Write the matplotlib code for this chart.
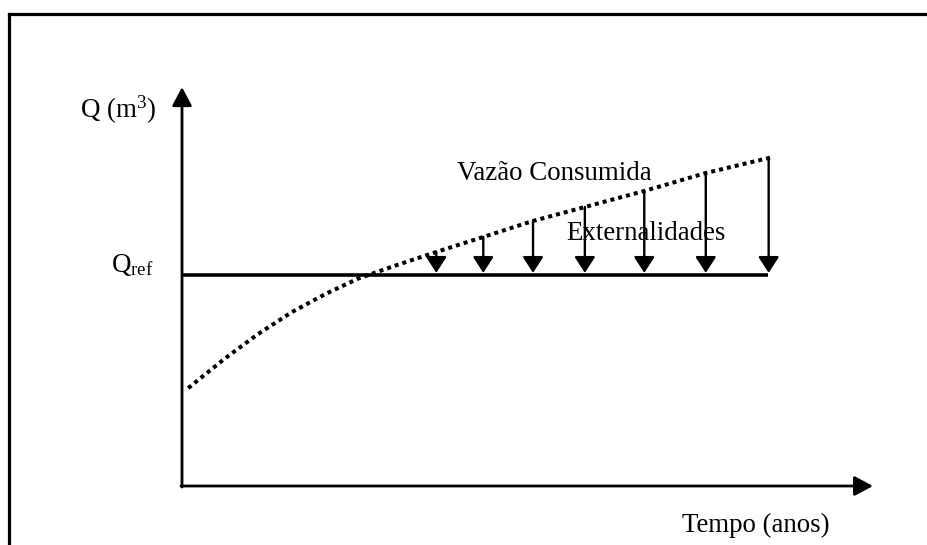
import numpy as np
import matplotlib.pyplot as plt
from matplotlib.lines import Line2D

plt.rcParams['font.family'] = ['Liberation Serif', 'DejaVu Serif']
plt.rcParams['mathtext.fontset'] = 'custom'
plt.rcParams['mathtext.rm'] = 'Liberation Serif'
plt.rcParams['mathtext.it'] = 'Liberation Serif:italic'

# vazao consumida (dotted curve), tempo vs Q
tempo = [0.09, 0.62, 1.10, 1.59, 2.07, 2.55, 3.11, 3.68, 4.36, 5.08, 5.83, 6.69, 7.58, 8.55]
vazao = [4.64, 6.04, 7.20, 8.24, 9.09, 9.83, 10.47, 11.09, 11.80, 12.56, 13.22, 13.98, 14.83, 15.59]

q_ref = 10.0
t_ref_end = 8.48

# externalidades arrows
t_ext = [3.68, 4.36, 5.08, 5.83, 6.69, 7.58, 8.49]
q_ext = [11.09, 11.80, 12.56, 13.22, 13.98, 14.83, 15.55]

x_tip = 10.0
y_tip = 18.9

fig = plt.figure(figsize=(9.28, 5.45), dpi=100)
ax = fig.add_axes([0, 0, 1, 1])
ax.set_xlim(-2.634, 10.796)
ax.set_ylim(-2.796, 23.03)
ax.axis('off')

# page border (left and top only)
fig.add_artist(Line2D([9 / 928, 9 / 928], [0, 1 - 14 / 545], color='black', lw=2.3,
                      transform=fig.transFigure, solid_capstyle='projecting'))
fig.add_artist(Line2D([9 / 928, 1], [1 - 14 / 545, 1 - 14 / 545], color='black', lw=2.3,
                      transform=fig.transFigure, solid_capstyle='projecting'))

# axes with arrows
axis_arrow = dict(arrowstyle='-|>,head_length=0.75,head_width=0.4', color='black',
                  lw=2.0, shrinkA=0, shrinkB=0, mutation_scale=15)
ax.annotate('', xy=(0, y_tip), xytext=(0, -0.05), arrowprops=axis_arrow)
ax.annotate('', xy=(x_tip, 0), xytext=(-0.015, 0), arrowprops=axis_arrow)

# Q ref line
ax.plot([0, t_ref_end], [q_ref, q_ref], color='black', lw=2.6, solid_capstyle='butt')

# consumed flow curve
ax.plot(tempo, vazao, color='black', lw=2.9, linestyle=(0, (1, 1.0)), dash_capstyle='butt',
        solid_joinstyle='round')

# externality arrows
ext_arrow = dict(arrowstyle='-|>,head_length=0.65,head_width=0.42', color='black',
                 lw=1.7, shrinkA=0, shrinkB=0, mutation_scale=15)
for t, q in zip(t_ext, q_ext):
    ax.annotate('', xy=(t, q_ref + 0.1), xytext=(t, q), arrowprops=ext_arrow)

fs = 19.4
ax.text(-0.93, 17.44, r'Q (m$^{3}$)', fontsize=fs, ha='center', va='baseline')
ax.text(-1.03, 10.14, r'Q$_{\mathrm{ref}}$', fontsize=fs, ha='left', va='baseline')
ax.text(3.98, 14.50, 'Vazão Consumida', fontsize=fs, ha='left', va='baseline')
ax.text(5.56, 11.66, 'Externalidades', fontsize=fs, ha='left', va='baseline')
ax.text(7.24, -2.18, 'Tempo (anos)', fontsize=fs, ha='left', va='baseline')

fig.savefig('out.png', dpi=100)
